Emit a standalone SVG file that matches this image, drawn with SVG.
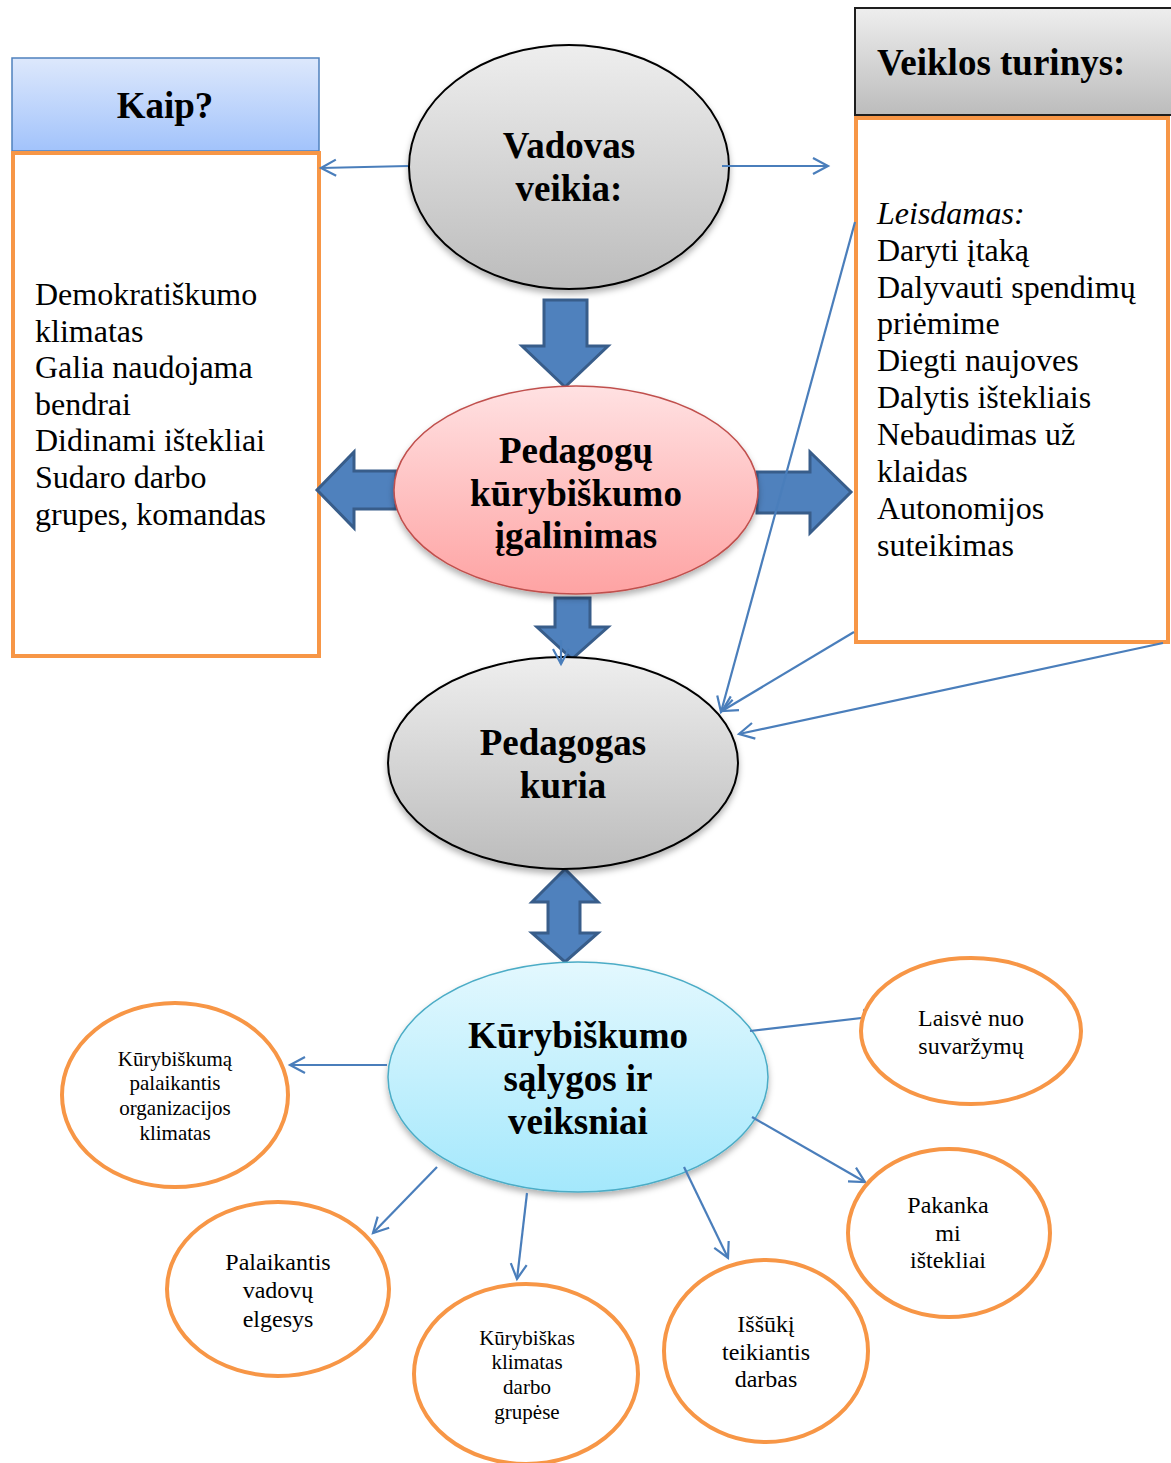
<svg xmlns="http://www.w3.org/2000/svg" width="1171" height="1463" viewBox="0 0 1171 1463">
  <defs>
    <linearGradient id="gBlue" x1="0" y1="0" x2="0" y2="1">
      <stop offset="0" stop-color="#dde8fc"/>
      <stop offset="1" stop-color="#a2c3fb"/>
    </linearGradient>
    <linearGradient id="gGray" x1="0" y1="0" x2="0" y2="1">
      <stop offset="0" stop-color="#eeeeee"/>
      <stop offset="1" stop-color="#bcbcbc"/>
    </linearGradient>
    <linearGradient id="gPink" x1="0" y1="0" x2="0" y2="1">
      <stop offset="0" stop-color="#ffe1e2"/>
      <stop offset="1" stop-color="#fea3a3"/>
    </linearGradient>
    <linearGradient id="gCyan" x1="0" y1="0" x2="0" y2="1">
      <stop offset="0" stop-color="#e3f8fe"/>
      <stop offset="1" stop-color="#a4e8fc"/>
    </linearGradient>
    <filter id="shadow" x="-10%" y="-10%" width="120%" height="130%">
      <feDropShadow dx="0" dy="4" stdDeviation="3" flood-color="#000" flood-opacity="0.3"/>
    </filter>
    <marker id="open" markerUnits="userSpaceOnUse" markerWidth="20" markerHeight="20" viewBox="0 0 20 20" refX="17" refY="10" orient="auto">
      <path d="M2,2 L17,10 L2,18" fill="none" stroke="#4a7ebb" stroke-width="2.2"/>
    </marker>
  </defs>
  <style>
    .bold { font-family: "Liberation Serif", "Times New Roman", serif; font-weight: bold; font-size: 37px; fill: #000; text-anchor: middle; }
    .body { font-family: "Liberation Serif", "Times New Roman", serif; font-size: 32px; fill: #000; }
    .small { font-family: "Liberation Serif", "Times New Roman", serif; font-size: 24px; fill: #000; text-anchor: middle; }
    .smaller { font-family: "Liberation Serif", "Times New Roman", serif; font-size: 21px; fill: #000; text-anchor: middle; }
    .orange { fill: #fff; stroke: #f79646; stroke-width: 4; }
    .block { fill: #4f81bd; stroke: #385d8a; stroke-width: 3; stroke-linejoin: miter; }
    .conn { fill: none; stroke: #4a7ebb; stroke-width: 2.2; marker-end: url(#open); }
  </style>

  <rect width="1171" height="1463" fill="#fff"/>

  <!-- Left column: "Kaip?" header and its list -->
  <g id="kaip-header">
    <rect x="12" y="58" width="307" height="93" fill="url(#gBlue)" stroke="#4f81bd" stroke-width="1.5"/>
    <text class="bold" x="165" y="118">Kaip?</text>
  </g>
  <g id="kaip-body">
    <rect x="13" y="153" width="306" height="503" class="orange"/>
    <text class="body" x="35" y="305">Demokratiškumo</text>
    <text class="body" x="35" y="342">klimatas</text>
    <text class="body" x="35" y="378">Galia naudojama</text>
    <text class="body" x="35" y="415">bendrai</text>
    <text class="body" x="35" y="451">Didinami ištekliai</text>
    <text class="body" x="35" y="488">Sudaro darbo</text>
    <text class="body" x="35" y="525">grupes, komandas</text>
  </g>

  <!-- Right column: "Veiklos turinys:" header and its list -->
  <g id="veiklos-header">
    <rect x="855" y="8" width="320" height="107" fill="url(#gGray)" stroke="#1e1e1e" stroke-width="2"/>
    <text class="bold" x="877" y="75" style="text-anchor:start">Veiklos turinys:</text>
  </g>
  <g id="veiklos-body">
    <rect x="856" y="118" width="312" height="524" class="orange"/>
    <text class="body" x="877" y="224" font-style="italic">Leisdamas:</text>
    <text class="body" x="877" y="261">Daryti įtaką</text>
    <text class="body" x="877" y="298">Dalyvauti spendimų</text>
    <text class="body" x="877" y="334">priėmime</text>
    <text class="body" x="877" y="371">Diegti naujoves</text>
    <text class="body" x="877" y="408">Dalytis ištekliais</text>
    <text class="body" x="877" y="445">Nebaudimas už</text>
    <text class="body" x="877" y="482">klaidas</text>
    <text class="body" x="877" y="519">Autonomijos</text>
    <text class="body" x="877" y="556">suteikimas</text>
  </g>

  <!-- Central chain -->
  <g id="vadovas">
    <ellipse cx="569" cy="167" rx="160" ry="122" fill="url(#gGray)" stroke="#000" stroke-width="2" filter="url(#shadow)"/>
    <text class="bold" x="569" y="158">Vadovas</text>
    <text class="bold" x="569" y="201">veikia:</text>
  </g>

  <g id="block-arrows">
    <!-- down: Vadovas -> Pedagogų -->
    <path class="block" d="M544,300 H587 V346 H608 L565,387 L522,346 H544 Z"/>
    <!-- left: Pedagogų -> Kaip -->
    <path class="block" d="M396,471 H354 V452 L317,490 L354,528 V509 H396 Z"/>
    <!-- right: Pedagogų -> Veiklos -->
    <path class="block" d="M757,472 H810 V452 L851,492 L810,533 V513 H757 Z"/>
    <!-- down: Pedagogų -> Pedagogas -->
    <path class="block" d="M555,598 H590 V627 H608 L572,659 L537,627 H555 Z"/>
    <!-- two-way: Pedagogas <-> Kūrybiškumo -->
    <path class="block" d="M565,869 L598,902 H580 V933 H598 L565,962 L532,933 H548 V902 H532 Z"/>
  </g>

  <g id="pedagogu">
    <ellipse cx="576" cy="490" rx="182" ry="104" fill="url(#gPink)" stroke="#c0504d" stroke-width="1.5" filter="url(#shadow)"/>
    <text class="bold" x="576" y="463">Pedagogų</text>
    <text class="bold" x="576" y="506">kūrybiškumo</text>
    <text class="bold" x="576" y="548">įgalinimas</text>
  </g>

  <g id="pedagogas">
    <ellipse cx="563" cy="763" rx="175" ry="106" fill="url(#gGray)" stroke="#000" stroke-width="2" filter="url(#shadow)"/>
    <text class="bold" x="563" y="755">Pedagogas</text>
    <text class="bold" x="563" y="798">kuria</text>
  </g>

  <g id="kurybiskumo">
    <ellipse cx="578" cy="1077" rx="190" ry="115" fill="url(#gCyan)" stroke="#4bacc6" stroke-width="1.5" filter="url(#shadow)"/>
    <text class="bold" x="578" y="1048">Kūrybiškumo</text>
    <text class="bold" x="578" y="1091">sąlygos ir</text>
    <text class="bold" x="578" y="1134">veiksniai</text>
  </g>

  <!-- Thin connectors -->
  <g id="connectors">
    <line class="conn" x1="408" y1="166" x2="321" y2="168"/>
    <line class="conn" x1="722" y1="166" x2="828" y2="166"/>
    <line class="conn" x1="561" y1="640" x2="561" y2="664"/>
    <line class="conn" x1="855" y1="222" x2="721" y2="712"/>
    <line class="conn" x1="854" y1="632" x2="722" y2="711"/>
    <line class="conn" x1="1163" y1="643" x2="739" y2="734"/>
    <line class="conn" x1="387" y1="1065" x2="290" y2="1065"/>
    <line class="conn" x1="750" y1="1031" x2="879" y2="1016"/>
    <line class="conn" x1="752" y1="1117" x2="865" y2="1182"/>
    <line class="conn" x1="437" y1="1167" x2="373" y2="1233"/>
    <line class="conn" x1="527" y1="1193" x2="517" y2="1279"/>
    <line class="conn" x1="684" y1="1167" x2="728" y2="1258"/>
  </g>

  <!-- Outer factor nodes -->
  <g id="organizacijos-klimatas">
    <ellipse cx="175" cy="1095" rx="113" ry="92" class="orange"/>
    <text class="smaller" x="175" y="1066">Kūrybiškumą</text>
    <text class="smaller" x="175" y="1090">palaikantis</text>
    <text class="smaller" x="175" y="1115">organizacijos</text>
    <text class="smaller" x="175" y="1140">klimatas</text>
  </g>
  <g id="laisve">
    <ellipse cx="971" cy="1031" rx="110" ry="73" class="orange"/>
    <text class="small" x="971" y="1026">Laisvė nuo</text>
    <text class="small" x="971" y="1054">suvaržymų</text>
  </g>
  <g id="istekliai">
    <ellipse cx="949" cy="1233" rx="101" ry="84" class="orange"/>
    <text class="small" x="948" y="1213">Pakanka</text>
    <text class="small" x="948" y="1241">mi</text>
    <text class="small" x="948" y="1268">ištekliai</text>
  </g>
  <g id="vadovu-elgesys">
    <ellipse cx="278" cy="1289" rx="111" ry="87" class="orange"/>
    <text class="small" x="278" y="1270">Palaikantis</text>
    <text class="small" x="278" y="1298">vadovų</text>
    <text class="small" x="278" y="1327">elgesys</text>
  </g>
  <g id="darbo-grupes">
    <ellipse cx="526" cy="1374" rx="112" ry="90" class="orange"/>
    <text class="smaller" x="527" y="1345">Kūrybiškas</text>
    <text class="smaller" x="527" y="1369">klimatas</text>
    <text class="smaller" x="527" y="1394">darbo</text>
    <text class="smaller" x="527" y="1419">grupėse</text>
  </g>
  <g id="issukis">
    <ellipse cx="766" cy="1351" rx="102" ry="91" class="orange"/>
    <text class="small" x="766" y="1332">Iššūkį</text>
    <text class="small" x="766" y="1360">teikiantis</text>
    <text class="small" x="766" y="1387">darbas</text>
  </g>
</svg>
